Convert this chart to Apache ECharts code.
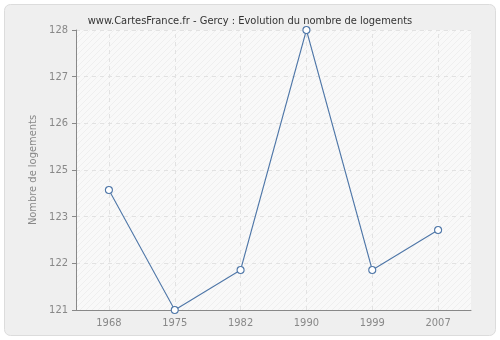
<!DOCTYPE html>
<html><head><meta charset="utf-8">
<script src="https://cdn.jsdelivr.net/npm/echarts@6/dist/echarts.min.js"></script>
<style>html,body{margin:0;padding:0;background:#fff;}#c{width:500px;height:340px;}</style>
</head><body><div id="c"></div>
<script>
var years = ['1968','1975','1982','1990','1999','2007'];
var logements = [124, 121, 122, 128, 122, 123];
var yTickLabels = ['121','122','123','125','126','127','128'];
var yMin = 121, yMax = 128;

var pc = document.createElement('canvas');
pc.width = 6; pc.height = 6;
var g = pc.getContext('2d');
g.fillStyle = '#f9f9f9'; g.fillRect(0,0,6,6);
g.strokeStyle = '#efefef'; g.lineWidth = 1;
g.beginPath(); g.moveTo(0,6); g.lineTo(6,0); g.moveTo(-1,1); g.lineTo(1,-1); g.moveTo(5,7); g.lineTo(7,5); g.stroke();

var FONT = 'DejaVu Sans Condensed';
var chart = echarts.init(document.getElementById('c'), null, {renderer:'canvas'});
chart.setOption({
  backgroundColor: '#fff',
  animation: false,
  graphic: [{type:'rect', shape:{x:4.5,y:4.5,width:491,height:331,r:6}, style:{fill:'#efefef', stroke:'#dcdcdc', lineWidth:1}, z:-10}],
  title: {text:'www.CartesFrance.fr - Gercy : Evolution du nombre de logements', left:'center', top:11,
    textStyle:{fontFamily:FONT, fontSize:11, fontWeight:'normal', color:'#333'}},
  grid: {left:76, right:29, top:30, bottom:30, show:true, backgroundColor:{image:pc, repeat:'repeat'}, borderWidth:0},
  xAxis: {type:'category', data:years, boundaryGap:true,
    axisLine:{lineStyle:{color:'#888'}},
    axisTick:{alignWithLabel:true, length:4, lineStyle:{color:'#888'}},
    axisLabel:{color:'#888', fontFamily:FONT, fontSize:11, margin:8},
    splitLine:{show:false}},
  yAxis: {type:'value', min:yMin, max:yMax, interval:(yMax-yMin)/6,
    name:'Nombre de logements', nameLocation:'middle', nameGap:31,
    nameTextStyle:{color:'#888', fontFamily:FONT, fontSize:11},
    axisLine:{show:true, lineStyle:{color:'#888'}},
    axisTick:{show:true, length:4, lineStyle:{color:'#888'}},
    axisLabel:{color:'#888', fontFamily:FONT, fontSize:11, margin:8,
      formatter:function(v,i){return yTickLabels[i];}},
    splitLine:{show:true, lineStyle:{color:'#e2e2e2', type:[4,4]}}},
  series: [{type:'line', data:logements, symbol:'circle', symbolSize:7,
    lineStyle:{color:'#4f77a8', width:1.1},
    itemStyle:{color:'#fff', borderColor:'#4f77a8', borderWidth:1.1},
    markLine:{silent:true, symbol:'none', label:{show:false}, z:1,
      lineStyle:{color:'#e2e2e2', type:[4,4], width:1},
      data: years.map(function(y){return {xAxis:y};})}}]
});
</script></body></html>
